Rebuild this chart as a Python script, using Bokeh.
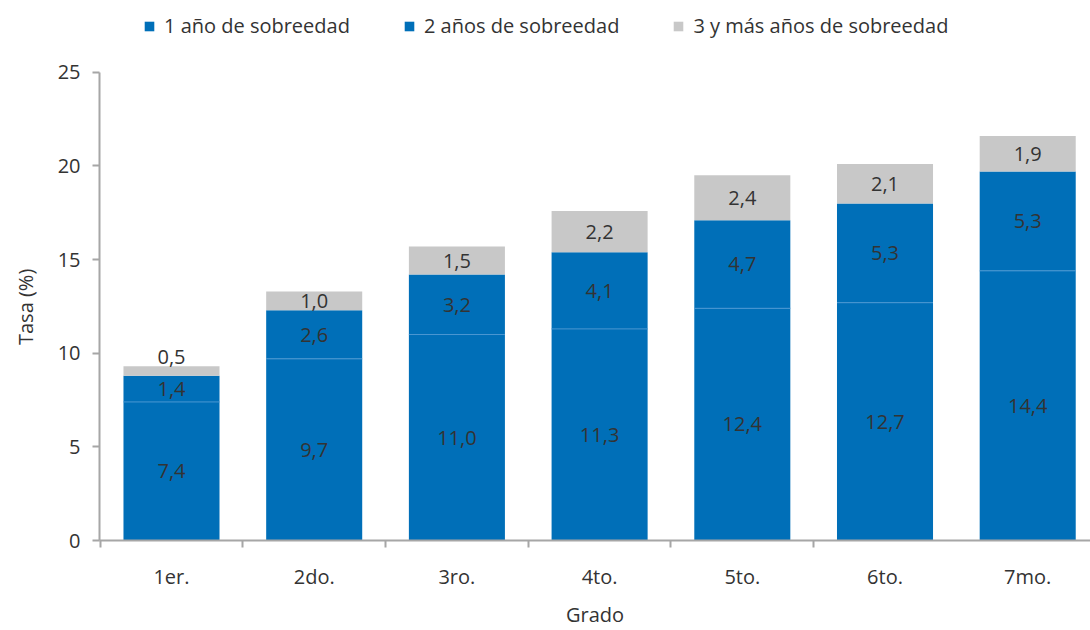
from bokeh.plotting import figure
from bokeh.models import (ColumnDataSource, Range1d, FixedTicker, Legend, LegendItem)
from bokeh.core.properties import value
from bokeh.embed import file_html
from bokeh.resources import INLINE

grados = ["1er.", "2do.", "3ro.", "4to.", "5to.", "6to.", "7mo."]
s1 = [7.4, 9.7, 11.0, 11.3, 12.4, 12.7, 14.4]
s2 = [1.4, 2.6, 3.2, 4.1, 4.7, 5.3, 5.3]
s3 = [0.5, 1.0, 1.5, 2.2, 2.4, 2.1, 1.9]
series_names = ["1 año de sobreedad", "2 años de sobreedad", "3 y más años de sobreedad"]
y_ticks = [0, 5, 10, 15, 20, 25]

FONT = "Open Sans"
FS = "20px"
BLUE = "#006FB8"
GREY = "#C8C8C8"
TXT = "#333333"
AX = "#A6A6A6"
W = 0.673

# layout geometry (pixels): frame spans 0..541 vertically, axis max (25) sits at 72
FRAME_BOTTOM = 541
AXIS_TOP = 72
Y_MAX = 25
y_end = Y_MAX * FRAME_BOTTOM / (FRAME_BOTTOM - AXIS_TOP)

xs = list(range(len(grados)))
t2 = [a + b for a, b in zip(s1, s2)]
t3 = [a + b for a, b in zip(t2, s3)]

src = ColumnDataSource(dict(x=xs, s1=s1, t2=t2, t3=t3,
                            l=[x - W / 2 for x in xs], r=[x + W / 2 for x in xs]))

p = figure(width=1090, height=630, output_backend="svg", toolbar_location=None,
           x_range=Range1d(-0.5045, 6.44), y_range=Range1d(0, y_end),
           min_border_left=99, min_border_right=0, min_border_top=0,
           min_border_bottom=630 - FRAME_BOTTOM)
p.outline_line_color = None
p.grid.visible = False
p.background_fill_color = "white"

r1 = p.vbar(x="x", width=W, bottom=0, top="s1", source=src, fill_color=BLUE, line_color=None)
r2 = p.vbar(x="x", width=W, bottom="s1", top="t2", source=src, fill_color=BLUE, line_color=None)
r3 = p.vbar(x="x", width=W, bottom="t2", top="t3", source=src, fill_color=GREY, line_color=None)
p.segment(x0="l", x1="r", y0="s1", y1="s1", source=src, line_color="#4A97D2", line_width=1)

# data labels
lx, ly, lt = [], [], []
for i in xs:
    segs = [(0, s1[i]), (s1[i], t2[i]), (t2[i], t3[i])]
    for (b, t) in segs:
        h = t - b
        lx.append(i)
        ly.append(t + 0.5 if h < 0.8 else (b + t) / 2)
        lt.append(f"{h:.1f}".replace(".", ","))
p.text(x=lx, y=ly, text=lt, text_align="center", text_baseline="middle",
       text_font=value(FONT), text_font_size=FS, text_color=TXT)

# axes
xa = p.xaxis[0]
xa.ticker = FixedTicker(ticks=xs, minor_ticks=[x - 0.5 for x in xs[:-1]])
xa.major_label_overrides = {i: g for i, g in enumerate(grados)}
xa.major_tick_line_color = None
xa.major_tick_out = 0
xa.major_tick_in = 0
xa.minor_tick_line_color = AX
xa.minor_tick_line_width = 2
xa.minor_tick_out = 7
xa.minor_tick_in = 0
xa.major_label_standoff = 15
xa.axis_line_color = AX
xa.axis_line_width = 2
xa.axis_label = "Grado"
xa.axis_label_standoff = 8
xa.axis_label_text_font_style = "normal"

ya = p.yaxis[0]
ya.ticker = FixedTicker(ticks=y_ticks)
ya.bounds = (0, Y_MAX)
ya.major_tick_out = 7
ya.major_tick_in = 0
ya.major_tick_line_color = AX
ya.major_tick_line_width = 2
ya.minor_tick_line_color = None
ya.axis_line_color = AX
ya.axis_line_width = 2
ya.major_label_standoff = 12
# trailing no-break spaces keep the label centred on the 0-25 part of the axis
ya.axis_label = "Tasa (%)" + "\u00a0" * 14
ya.axis_label_standoff = 16
ya.axis_label_text_font_style = "normal"

for ax in (xa, ya):
    ax.major_label_text_font = FONT
    ax.major_label_text_font_size = FS
    ax.major_label_text_color = TXT
    ax.axis_label_text_font = FONT
    ax.axis_label_text_font_size = FS
    ax.axis_label_text_color = TXT

legend = Legend(items=[LegendItem(label=series_names[0], renderers=[r1]),
                       LegendItem(label=series_names[1], renderers=[r2]),
                       LegendItem(label=series_names[2], renderers=[r3])],
                orientation="horizontal", location=(44, FRAME_BOTTOM - 40),
                label_text_font=FONT, label_text_font_size=FS, label_text_color=TXT,
                glyph_width=12, glyph_height=12, label_height=22, label_standoff=9,
                spacing=53, padding=0, margin=0, border_line_color=None,
                background_fill_alpha=0)
p.add_layout(legend, "center")

open("out.html", "w").write(file_html(p, INLINE))
